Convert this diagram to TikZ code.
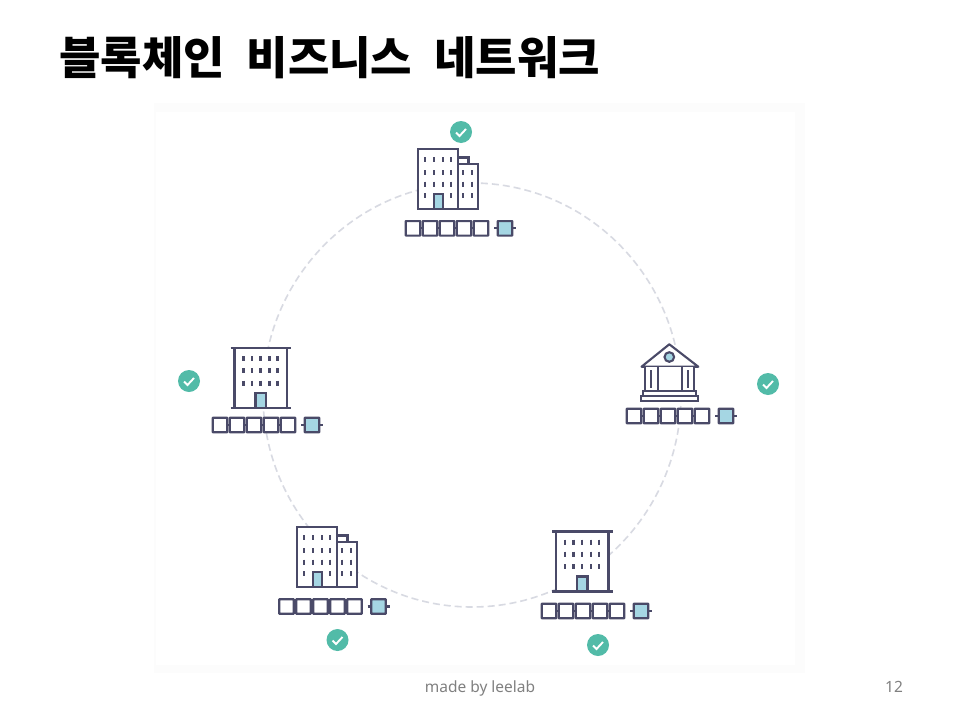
\documentclass[tikz,border=0pt]{standalone}
\usepackage{fontspec}
\setmainfont{Noto Sans}
\newfontfamily\krfont{Noto Sans CJK KR}
\usepackage{xcolor}
\definecolor{inkblue}{HTML}{4A4A68}
\definecolor{doorblue}{HTML}{A5D6E3}
\definecolor{checkgreen}{HTML}{52BBA8}
\definecolor{ringgray}{HTML}{D8DAE2}
\definecolor{panelgray}{HTML}{FCFCFC}

\begin{document}
\begin{tikzpicture}[
  x=1pt,y=-1pt,
  line/.style={draw=inkblue,line width=2.1pt},
  wall/.style={line,fill=white},
  glass/.style={line,fill=doorblue},
  window/.style={inkblue,line width=2.2pt},
  block/.style={line,fill=white,rounded corners=0.3pt,minimum size=14.5pt,inner sep=0pt,outer sep=0pt},
  lastblock/.style={block,fill=doorblue},
  check/.style={circle,fill=checkgreen,minimum size=22pt,inner sep=0pt},
  ring/.style={draw=ringgray,line width=1.6pt,dash pattern=on 7pt off 4pt},
  chain/.pic={
    \foreach \i in {0,...,4}
      \node[block] (-b\i) at (17*\i,0) {};
    \foreach \i/\j in {0/1,1/2,2/3,3/4}
      \draw[line] (-b\i) -- (-b\j);
    \node[lastblock] (-last) at (92,0) {};
    \coordinate (-l) at (81,0);
    \coordinate (-r) at (103,0);
    \draw[line] (-l) -- (-last) (-last) -- (-r);
  },
  tickmark/.pic={
    \node[check] (-c) at (0,0) {};
    \coordinate (-p) at (-5,0.5);
    \coordinate (-q) at (-1.5,4);
    \coordinate (-s) at (5,-3);
    \draw[white,line width=1.9pt] (-p) -- (-q) -- (-s);
  },
  tower/.pic={
    \fill[white] (4,0) rectangle (56,60);
    \draw[line] (0,0) -- (60.5,0);
    \draw[line] (0,60) -- (60.5,60);
    \draw[line] (4,0) -- (4,60) (56.5,0) -- (56.5,60);
    \foreach \y in {8,20,32.5}
      \foreach \x in {13,21.5,30,39,47}
        \draw[window] (\x,\y) -- ++(0,5);
    \draw[glass] (25,45) rectangle (35.5,60);
  },
  office/.pic={
    \draw[wall] (40,8.5) rectangle (50.5,15);
    \draw[wall] (40,15) rectangle (60,60);
    \draw[wall] (0,0) rectangle (40,60);
    \foreach \y in {8.3,21,32.7}
      \foreach \x in {7.3,16,24.7,33.3}
        \draw[window] (\x,\y) -- ++(0,5);
    \foreach \x in {7.3,33.3}
      \draw[window] (\x,44.3) -- ++(0,5);
    \foreach \y in {21,32.7,44.3}
      \foreach \x in {45.3,54.3}
        \draw[window] (\x,\y) -- ++(0,5);
    \draw[glass] (16.3,45) rectangle (25,60);
  },
  bank/.pic={
    \draw[wall,line join=round] (0.5,22.4) -- (28.3,0) -- (57.3,22.4) -- cycle;
    \draw[glass] (28.3,12.7) circle (4.8);
    \fill[white] (4,22.4) rectangle (53.3,46.7);
    \draw[line] (4,22.4) -- (4,46.7) (16.7,22.4) -- (16.7,46.7);
    \draw[line] (40.7,22.4) -- (40.7,46.7) (53.3,22.4) -- (53.3,46.7);
    \draw[line] (10,26) -- (10,44) (47,26) -- (47,44);
    \draw[wall] (2.3,46.7) rectangle (55.3,51.7);
    \draw[wall] (0,51.7) rectangle (57.3,56.7);
  }
]
\useasboundingbox (0,0) rectangle (960,720);
\fill[panelgray] (154,103) rectangle (805,673);
\fill[white] (156,112) rectangle (795,665);

\coordinate (circlecentre) at (472,395);
\draw[ring] (circlecentre) ellipse [x radius=209,y radius=212];

% buildings
\pic (top) at (418,149) {office};
\pic (west) at (230.5,348) {tower};
\pic (east) at (641,344.3) {bank};
\pic (swest) at (297,527) {office};
\pic (seast) at (552,531.5) {tower};

% ledgers
\pic (topchain) at (413,228.3) {chain};
\pic (westchain) at (220,425) {chain};
\pic (eastchain) at (634,416) {chain};
\pic (swestchain) at (286.5,606.5) {chain};
\pic (seastchain) at (549,611) {chain};

% checks
\pic (topcheck) at (461,132) {tickmark};
\pic (westcheck) at (189,381) {tickmark};
\pic (eastcheck) at (768,384) {tickmark};
\pic (swestcheck) at (337.5,640) {tickmark};
\pic (seastcheck) at (598,645) {tickmark};

\node[anchor=west,inner sep=0pt,font=\krfont\bfseries\fontsize{45}{50}\selectfont] (title) at (59,58) {블록체인\hspace{22pt}비즈니스\hspace{22pt}네트워크};
\node[font=\fontsize{15.5}{18}\selectfont,text=gray] (madeby) at (480,688) {made by leelab};
\node[font=\fontsize{15.5}{18}\selectfont,text=gray] (pageno) at (894,687) {12};
\end{tikzpicture}
\end{document}
